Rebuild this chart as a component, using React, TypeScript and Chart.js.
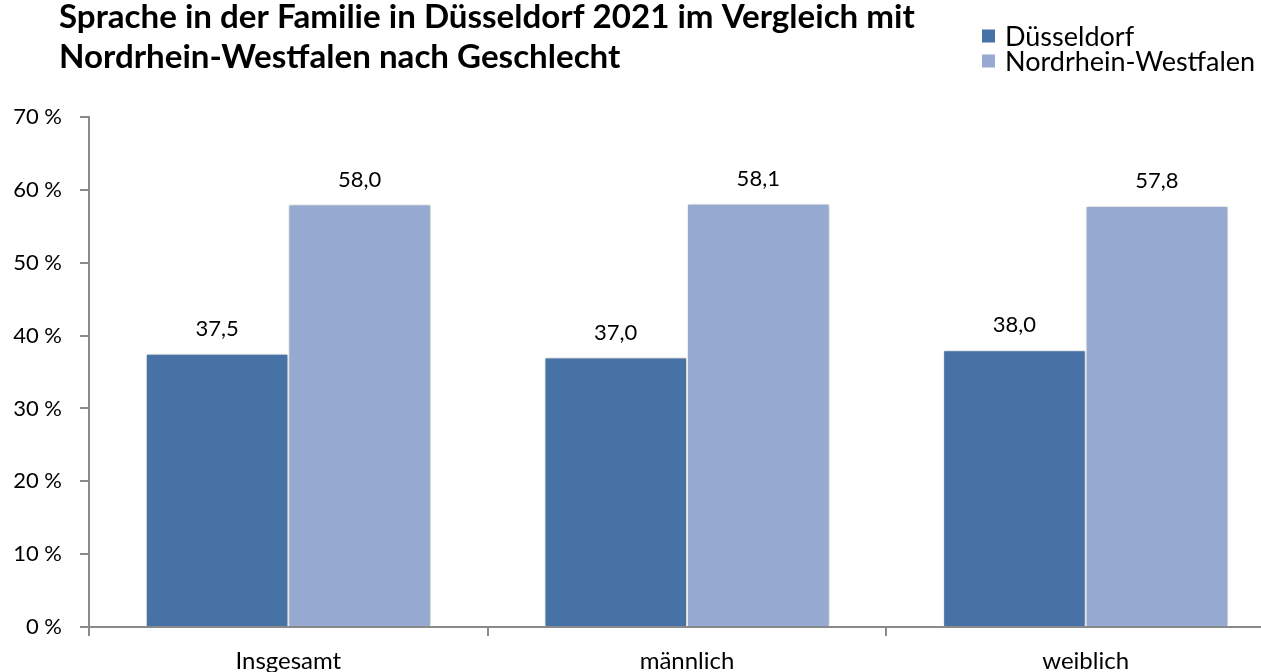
import React, { useEffect, useRef } from "react";
import { Chart, registerables } from "chart.js";

Chart.register(...registerables);

const titleLines = [
  "Sprache in der Familie in Düsseldorf 2021 im Vergleich mit",
  "Nordrhein-Westfalen nach Geschlecht",
];
const categories = ["Insgesamt", "männlich", "weiblich"];
const seriesNames = ["Düsseldorf", "Nordrhein-Westfalen"];
const duesseldorf = [37.5, 37.0, 38.0];
const nrw = [58.0, 58.1, 57.8];
const yTicks = [0, 10, 20, 30, 40, 50, 60, 70];
const colors = ["#4672A6", "#95A9D1"];

const FONT = "Lato, 'Open Sans', sans-serif";

const fmt = (v: number) => v.toFixed(1).replace(".", ",");

const decorPlugin = {
  id: "decor",
  beforeDatasetDraw(chart: any) {
    const ctx = chart.ctx;
    ctx.save();
    ctx.shadowColor = "rgba(0,0,0,0.28)";
    ctx.shadowBlur = 4;
    ctx.shadowOffsetX = 1;
    ctx.shadowOffsetY = 0;
  },
  afterDatasetDraw(chart: any) {
    chart.ctx.restore();
  },
  afterDatasetsDraw(chart: any) {
    const ctx = chart.ctx;
    ctx.save();
    ctx.fillStyle = "#000";
    ctx.font = `22px ${FONT}`;
    ctx.textAlign = "center";
    ctx.textBaseline = "middle";
    chart.data.datasets.forEach((ds: any, i: number) => {
      const meta = chart.getDatasetMeta(i);
      meta.data.forEach((el: any, j: number) => {
        ctx.fillText(fmt(ds.data[j]), el.x, el.y - 25);
      });
    });
    ctx.restore();
  },
  afterDraw(chart: any) {
    const ctx = chart.ctx;
    ctx.save();
    // title
    ctx.fillStyle = "#000";
    ctx.textAlign = "left";
    ctx.textBaseline = "alphabetic";
    let size = 26;
    ctx.font = `bold ${size}px ${FONT}`;
    const w = ctx.measureText(titleLines[0]).width;
    size = (size * 856) / w;
    ctx.font = `bold ${size}px ${FONT}`;
    ctx.fillText(titleLines[0], 59, 28);
    ctx.fillText(titleLines[1], 59, 68);
    // legend
    ctx.font = `27px ${FONT}`;
    ctx.textBaseline = "middle";
    chart.data.datasets.forEach((ds: any, i: number) => {
      const cy = 36 + i * 25;
      ctx.fillStyle = ds.backgroundColor;
      ctx.fillRect(982, cy - 6.5, 13, 13);
      ctx.fillStyle = "#000";
      ctx.fillText(ds.label, 1005, cy + 1);
    });
    ctx.restore();
  },
};

export default function App() {
  const ref = useRef<HTMLCanvasElement | null>(null);
  useEffect(() => {
    if (!ref.current) return;
    const chart = new Chart(ref.current, {
      type: "bar",
      data: {
        labels: categories,
        datasets: [
          {
            label: seriesNames[0],
            data: duesseldorf,
            backgroundColor: colors[0],
            borderColor: "#ffffff",
            borderWidth: 1,
            categoryPercentage: 0.715,
            barPercentage: 1,
          },
          {
            label: seriesNames[1],
            data: nrw,
            backgroundColor: colors[1],
            borderColor: "#ffffff",
            borderWidth: 1,
            categoryPercentage: 0.715,
            barPercentage: 1,
          },
        ],
      },
      options: {
        responsive: false,
        animation: false,
        layout: { padding: { top: 117, right: 15, left: 0, bottom: 0 } },
        plugins: {
          legend: { display: false },
          title: { display: false },
          tooltip: { enabled: false },
        },
        scales: {
          x: {
            grid: {
              drawOnChartArea: false,
              drawTicks: true,
              tickLength: 9,
              color: "#8a8a8a",
              lineWidth: 2,
              offset: true,
            },
            border: { display: true, color: "#8a8a8a", width: 2 },
            ticks: {
              color: "#000",
              font: { family: FONT, size: 24 },
              padding: 11,
            },
            afterFit: (s: any) => {
              s.height = 45;
            },
          },
          y: {
            min: 0,
            max: 70,
            afterBuildTicks: (s: any) => {
              s.ticks = yTicks.map((v) => ({ value: v }));
            },
            grid: {
              drawOnChartArea: false,
              drawTicks: true,
              tickLength: 9,
              color: "#8a8a8a",
              lineWidth: 2,
            },
            border: { display: true, color: "#8a8a8a", width: 2 },
            ticks: {
              color: "#000",
              font: { family: FONT, size: 22 },
              padding: 18,
              callback: (v: any) => `${v} %`,
            },
            afterFit: (s: any) => {
              s.width = 89;
            },
          },
        },
      },
      plugins: [decorPlugin],
    });
    return () => chart.destroy();
  }, []);
  return (
    <div
      style={{
        position: "fixed",
        left: 0,
        top: 0,
        width: 1261,
        height: 672,
        overflow: "hidden",
        background: "#fff",
      }}
    >
      <canvas ref={ref} width={1300} height={672} style={{ display: "block" }} />
    </div>
  );
}
